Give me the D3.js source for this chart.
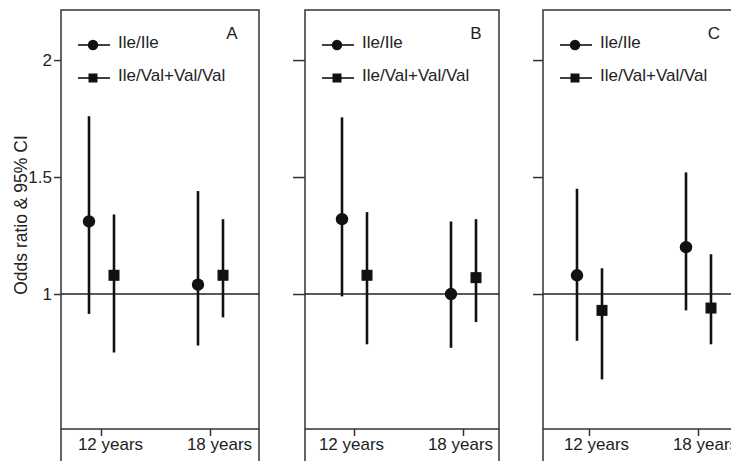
<!DOCTYPE html>
<head>
<meta charset="utf-8">
<script src="https://d3js.org/d3.v7.min.js"></script>
<style>
  body { margin: 0; background: #fff; }
  text { font-family: "Liberation Sans", Arial, sans-serif; font-size: 17px; fill: #222; }
  .tick text { font-size: 17px; fill: #222; }
  .tick line { stroke: #333; stroke-width: 1.5; }
  path.domain { display: none; }
</style>
</head>
<body>
<script>
// panels and categories
const panels = ['A', 'B', 'C'];
const ages = ['12 years', '18 years'];
const genotypes = ['Ile/Ile', 'Ile/Val+Val/Val'];
const yTicks = [1, 1.5, 2];

// odds ratios and 95% CI, one row per panel, one value per age
const orIleIle = [[1.31, 1.04], [1.32, 1.00], [1.08, 1.20]];
const loIleIle = [[0.915, 0.78], [0.99, 0.77], [0.80, 0.93]];
const hiIleIle = [[1.76, 1.44], [1.755, 1.31], [1.45, 1.52]];

const orVal = [[1.08, 1.08], [1.08, 1.07], [0.93, 0.94]];
const loVal = [[0.75, 0.90], [0.785, 0.88], [0.635, 0.785]];
const hiVal = [[1.34, 1.32], [1.35, 1.32], [1.11, 1.17]];

const width = 731, height = 461;
const plotTop = 10, axisY = 429;

// layout of the three boxes
const panelLeft = [61, 305, 543];
const panelWidth = [198, 194, 196];
const contentShift = [-5, 4, 1];
const yTickLen = [7, 12, 10];
const labelDx = [9, -3, 7];

const svg = d3.select('body').append('svg')
  .attr('width', width)
  .attr('height', height);

const y = d3.scaleLinear()
  .domain([0.423, 2.214])
  .range([axisY, plotTop]);

// y axis title
svg.append('text')
  .attr('transform', `translate(27, 215) rotate(-90)`)
  .style('text-anchor', 'middle')
  .style('font-size', '17.5px')
  .text('Odds ratio & 95% CI');

panels.forEach((p, i) => {
  const g = svg.append('g').attr('transform', `translate(${panelLeft[i]}, 0)`);
  const w = panelWidth[i];

  const x = d3.scalePoint()
    .domain(ages)
    .range([45 + contentShift[i], 154 + contentShift[i]]);

  // box
  g.append('rect')
    .attr('x', 0).attr('y', plotTop)
    .attr('width', w).attr('height', height + 20 - plotTop)
    .attr('fill', 'none')
    .attr('stroke', '#333')
    .attr('stroke-width', 1.5);

  // y axis ticks (labels only on first panel)
  const yAxis = d3.axisLeft(y)
    .tickValues(yTicks)
    .tickSize(yTickLen[i])
    .tickPadding(2)
    .tickFormat(i === 0 ? d3.format('') : () => '');
  g.append('g').call(yAxis);

  // reference line at 1
  g.append('line')
    .attr('x1', 0).attr('x2', w)
    .attr('y1', y(1)).attr('y2', y(1))
    .attr('stroke', '#222')
    .attr('stroke-width', 1.5);

  // x axis
  g.append('line')
    .attr('x1', 0).attr('x2', w)
    .attr('y1', axisY).attr('y2', axisY)
    .attr('stroke', '#333')
    .attr('stroke-width', 1.5);

  const xAxis = d3.axisBottom(x).tickSize(7);
  g.append('g')
    .attr('transform', `translate(0, ${axisY})`)
    .call(xAxis)
    .selectAll('.tick text')
    .attr('dx', labelDx[i])
    .attr('y', 9);

  // series
  const series = [
    { shape: 'circle', off: -12, or: orIleIle[i], lo: loIleIle[i], hi: hiIleIle[i] },
    { shape: 'square', off: 13, or: orVal[i], lo: loVal[i], hi: hiVal[i] }
  ];

  series.forEach(s => {
    const pts = ages.map((a, j) => ({ a, or: s.or[j], lo: s.lo[j], hi: s.hi[j] }));

    g.selectAll(null)
      .data(pts)
      .enter()
      .append('line')
      .attr('x1', d => x(d.a) + s.off)
      .attr('x2', d => x(d.a) + s.off)
      .attr('y1', d => y(d.lo))
      .attr('y2', d => y(d.hi))
      .attr('stroke', '#111')
      .attr('stroke-width', 2.6);

    if (s.shape === 'circle') {
      g.selectAll(null)
        .data(pts)
        .enter()
        .append('circle')
        .attr('cx', d => x(d.a) + s.off)
        .attr('cy', d => y(d.or))
        .attr('r', 6.2)
        .attr('fill', '#111');
    } else {
      g.selectAll(null)
        .data(pts)
        .enter()
        .append('rect')
        .attr('x', d => x(d.a) + s.off - 5.5)
        .attr('y', d => y(d.or) - 5.5)
        .attr('width', 11)
        .attr('height', 11)
        .attr('fill', '#111');
    }
  });

  // legend
  const legRows = [45, 78];
  genotypes.forEach((gname, k) => {
    const ly = legRows[k];
    g.append('line')
      .attr('x1', 17).attr('x2', 49)
      .attr('y1', ly).attr('y2', ly)
      .attr('stroke', '#111')
      .attr('stroke-width', 1.6);
    if (k === 0) {
      g.append('circle').attr('cx', 32).attr('cy', ly).attr('r', 5.2).attr('fill', '#111');
    } else {
      g.append('rect').attr('x', 27.5).attr('y', ly - 4.5).attr('width', 9).attr('height', 9).attr('fill', '#111');
    }
    g.append('text')
      .attr('x', 57)
      .attr('y', ly + 2.5)
      .text(gname);
  });

  // panel letter
  g.append('text')
    .attr('x', 171)
    .attr('y', 38.5)
    .style('text-anchor', 'middle')
    .text(p);
});
</script>
</body>
